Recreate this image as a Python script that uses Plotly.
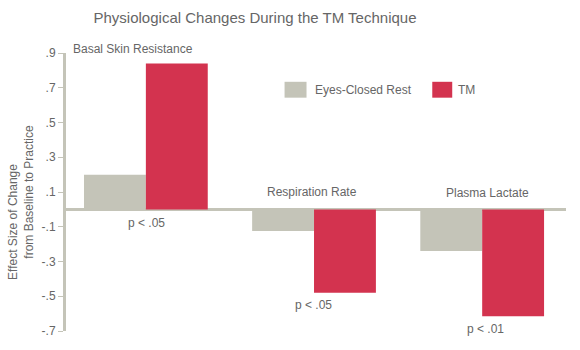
import plotly.graph_objects as go

# ---- data ----
categories = ["Basal Skin Resistance", "Respiration Rate", "Plasma Lactate"]
rest_values = [0.20, -0.125, -0.24]
tm_values = [0.84, -0.48, -0.615]
p_labels = ["p < .05", "p < .05", "p < .01"]
tick_vals = [0.9, 0.7, 0.5, 0.3, 0.1, -0.1, -0.3, -0.5, -0.7]
tick_text = [".9", ".7", ".5", ".3", ".1", "-.1", "-.3", "-.5", "-.7"]
series_names = ["Eyes-Closed Rest", "TM"]
y_title_lines = ["Effect Size of Change", "from Baseline to Practice"]

GRAY = "#c4c4b8"
RED = "#d3334f"
TEXT = "#666666"
FONT = "Liberation Sans, Arial, sans-serif"

W, H = 580, 350
L, R, T, B = 65, 14, 53, 17
PW, PH = W - L - R, H - T - B

def px(x):
    return (x - L) / PW

def py(y):
    return (H - B - y) / PH

idx = list(range(len(categories)))

fig = go.Figure()
fig.add_bar(x=idx, y=rest_values, name=series_names[0], marker=dict(color=GRAY, line=dict(width=0)))
fig.add_bar(x=idx, y=tm_values, name=series_names[1], marker=dict(color=RED, line=dict(width=0)))

annotations = []
cat_pos = [(132, 49), (311, 193), (487, 194)]
for c, (cx, cy) in zip(categories, cat_pos):
    annotations.append(dict(x=px(cx), y=py(cy), xref="paper", yref="paper", text=c, showarrow=False,
                            xanchor="center", yanchor="middle",
                            font=dict(size=12, color=TEXT, family=FONT)))
p_pos = [(146, 224), (313, 307), (485, 331)]
for p, (cx, cy) in zip(p_labels, p_pos):
    annotations.append(dict(x=px(cx), y=py(cy), xref="paper", yref="paper", text=p, showarrow=False,
                            xanchor="center", yanchor="middle",
                            font=dict(size=12, color=TEXT, family=FONT)))
# legend text
annotations.append(dict(x=px(312), y=py(90), xref="paper", yref="paper", text=series_names[0],
                        xanchor="left", yanchor="middle", showarrow=False,
                        font=dict(size=12, color=TEXT, family=FONT)))
annotations.append(dict(x=px(456), y=py(90), xref="paper", yref="paper", text=series_names[1],
                        xanchor="left", yanchor="middle", showarrow=False,
                        font=dict(size=12, color=TEXT, family=FONT)))

shapes = [
    dict(type="rect", xref="paper", yref="paper", x0=px(284), x1=px(306), y0=py(98), y1=py(82),
         fillcolor=GRAY, line=dict(width=0)),
    dict(type="rect", xref="paper", yref="paper", x0=px(432), x1=px(452), y0=py(98), y1=py(82),
         fillcolor=RED, line=dict(width=0)),
]

# trailing non-breaking spaces push the rotated title lower, as in the reference
pad = "\u00a0" * 18
y_title = "<br>".join(line + pad for line in y_title_lines)

fig.update_layout(
    width=W, height=H,
    margin=dict(l=L, r=R, t=T, b=B),
    paper_bgcolor="white", plot_bgcolor="white",
    barmode="group", bargap=0.264, bargroupgap=0,
    showlegend=False,
    title=dict(text="Physiological Changes During the TM Technique",
               x=255 / W, xref="container", xanchor="center",
               y=(H - 18) / H, yref="container", yanchor="middle",
               font=dict(size=15, color=TEXT, family=FONT)),
    font=dict(family=FONT, color=TEXT, size=12),
    annotations=annotations, shapes=shapes,
)
fig.update_xaxes(visible=False, range=[-0.475, 2.4985])
fig.update_yaxes(range=[-0.7, 0.9], tickvals=tick_vals, ticktext=tick_text,
                 showgrid=False, showline=True, linecolor=GRAY, linewidth=3,
                 ticks="outside", ticklen=5, tickwidth=1, tickcolor=GRAY,
                 zeroline=True, zerolinecolor=GRAY, zerolinewidth=3,
                 tickfont=dict(size=12, color=TEXT, family=FONT),
                 title=dict(text=y_title, standoff=6, font=dict(size=12, color=TEXT, family=FONT)))

fig.write_html("out.html")
